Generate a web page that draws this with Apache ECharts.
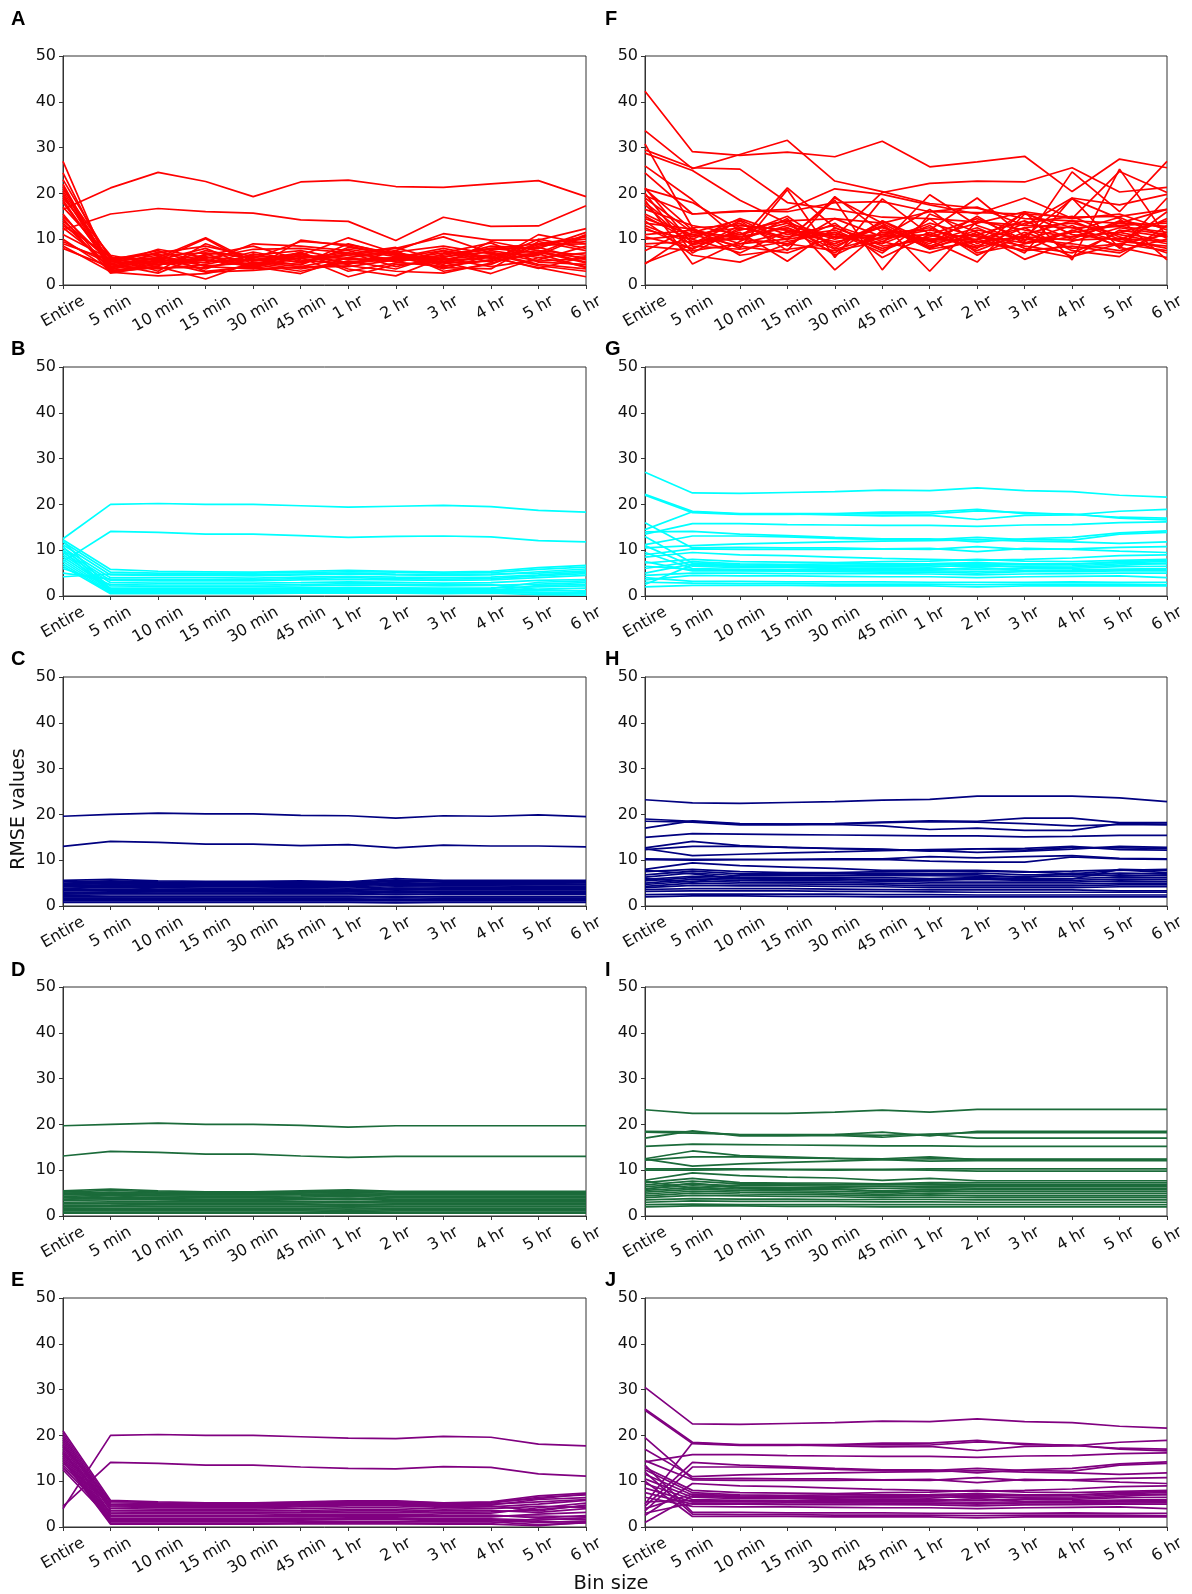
<!DOCTYPE html>
<html><head><meta charset="utf-8">
<script src="https://cdn.jsdelivr.net/npm/echarts@6/dist/echarts.min.js"></script>
<style>html,body{margin:0;padding:0;background:#fff}#c{width:1192px;height:1594px}</style>
</head><body><div id="c"></div>
<script>
const categories = ['Entire','5 min','10 min','15 min','30 min','45 min','1 hr','2 hr','3 hr','4 hr','5 hr','6 hr'];
const yTickStep = 10;
const yMax = 50;

const panelA = [
[16.5,21.2,24.6,22.6,19.3,22.5,22.9,21.5,21.3,22.1,22.8,19.3],
[12.0,15.5,16.7,16.0,15.7,14.2,13.9,9.7,14.8,12.8,12.9,17.3],
[27,3.0,4.5,5.5,4.0,6.0,7.0,5.5,6.5,8.0,7.0,6.0],
[24.5,4.0,6.0,10.3,5.0,4.0,6.0,7.0,5.0,6.0,9.0,10.5],
[23,5.5,7.5,4.0,3.5,9.8,8.5,6.5,4.5,9.5,7.5,5.0],
[22,3.5,5.0,6.5,8.5,5.5,4.5,7.5,11.2,9.8,9.8,12.3],
[21.5,2.8,2.0,2.5,4.5,6.5,10.3,7.0,5.5,7.5,6.0,4.0],
[21,6.0,5.5,10.1,4.5,3.0,5.0,6.0,7.5,5.0,11.0,9.0],
[20.5,4.5,7.8,6.0,5.5,7.0,3.5,2.0,6.0,8.5,8.0,11.5],
[20,3.2,4.0,1.3,5.0,4.5,9.0,6.5,3.5,6.5,7.5,6.5],
[19.5,5.0,6.5,7.0,6.0,5.0,6.5,8.0,10.5,7.0,4.5,3.5],
[19,6.5,4.5,5.0,9.0,8.5,7.5,5.0,4.0,5.5,10.0,8.0],
[18.5,3.8,5.5,8.0,3.8,6.0,1.8,4.5,5.0,2.5,6.0,7.0],
[18,4.2,3.5,4.5,6.5,7.5,5.5,6.0,8.0,6.0,3.8,1.8],
[17,5.8,6.8,3.0,4.0,2.5,6.0,7.5,3.0,4.5,8.5,9.5],
[15.5,3.0,4.8,5.8,7.8,8.0,7.0,4.0,6.0,8.0,9.0,10.0],
[15,4.8,5.2,2.8,3.2,4.0,4.0,5.5,7.0,9.2,5.0,4.5],
[14.5,2.6,4.2,7.5,5.8,9.5,8.8,6.8,4.8,5.2,7.0,11.0],
[14,5.2,6.0,4.2,4.8,3.5,5.2,3.5,6.8,7.8,8.2,5.5],
[13.5,3.6,7.2,5.3,5.3,6.8,4.8,5.8,5.8,4.0,5.5,8.5],
[13,6.2,3.0,9.0,5.5,5.8,6.5,7.2,8.5,6.8,4.2,3.0],
[12.5,4.4,5.8,3.5,6.8,4.8,7.8,6.2,3.8,3.5,9.5,7.5],
[11,5.6,4.4,6.2,4.2,7.2,3.0,4.8,7.5,5.8,6.5,10.8],
[10,3.3,6.2,4.8,7.2,5.2,6.8,8.2,5.2,6.2,3.6,6.2],
[9.5,4.6,2.6,6.8,3.6,3.8,4.2,3.0,2.6,4.8,7.2,4.8],
[9,5.4,7.0,8.5,6.2,6.2,5.8,5.2,6.2,7.2,5.2,5.8],
[8.5,2.9,3.8,3.8,5.6,4.4,8.2,6.6,4.2,5.5,8.8,9.0],
[8,3.9,5.3,5.5,4.6,6.6,4.6,5.8,5.6,6.6,6.8,3.8]
];

const panelB = [
[12.5,20.0,20.2,20.0,20.0,19.7,19.4,19.6,19.8,19.5,18.7,18.3],
[7.5,14.1,13.9,13.5,13.5,13.2,12.8,13.0,13.1,12.9,12.1,11.8],
[12.3,5.8,5.4,5.3,5.2,5.4,5.6,5.4,5.2,5.4,6.2,6.7],
[11.8,5.2,5.0,5.0,5.0,5.1,5.3,5.2,5.0,5.1,5.8,6.3],
[11.2,4.6,4.5,4.5,4.4,4.6,4.8,4.6,4.5,4.6,5.3,5.9],
[10.5,4.0,4.0,4.0,3.9,4.1,4.3,4.1,4.0,4.1,4.6,5.2],
[10.0,3.4,3.3,3.3,3.3,3.5,3.6,3.5,3.4,3.5,4.0,4.5],
[9.5,2.9,2.8,2.8,2.8,2.9,3.1,3.0,2.8,2.9,3.4,3.6],
[9.0,2.2,2.1,2.1,2.1,2.2,2.4,2.3,2.2,2.3,2.6,2.9],
[8.5,1.7,1.7,1.7,1.7,1.8,1.9,1.8,1.7,1.8,2.0,2.2],
[8.0,1.3,1.3,1.3,1.3,1.4,1.5,1.4,1.3,1.4,1.5,1.7],
[7.5,1.0,1.0,1.0,1.0,1.1,1.2,1.1,1.0,1.1,1.1,1.2],
[7.0,0.7,0.7,0.7,0.7,0.8,0.9,0.8,0.7,0.8,0.6,0.5],
[6.5,0.5,0.5,0.5,0.5,0.6,0.6,0.6,0.5,0.6,0.3,0.2],
[6.0,2.5,2.4,2.4,2.4,2.5,2.7,2.6,2.5,2.5,1.4,1.0],
[5.0,3.7,3.6,3.6,3.6,3.8,4.0,3.8,3.7,3.8,4.4,4.9],
[4.2,4.8,4.7,4.7,4.6,4.8,5.0,4.8,4.7,4.8,5.0,5.5],
[12.0,1.5,1.5,1.5,1.5,1.6,1.7,1.6,1.5,1.6,3.0,3.3],
[10.8,1.1,1.2,1.2,1.2,1.2,1.3,1.2,1.2,1.2,2.3,2.5],
[9.8,0.9,0.9,0.9,0.9,1.0,1.0,1.0,0.9,1.0,0.8,0.7]
];

const panelC = [
[19.6,20.0,20.3,20.1,20.1,19.8,19.7,19.2,19.7,19.6,19.9,19.5],
[13.0,14.1,13.9,13.5,13.5,13.2,13.4,12.7,13.3,13.1,13.1,12.9],
[5.6,5.8,5.5,5.4,5.4,5.5,5.3,6.0,5.6,5.6,5.6,5.6],
[5.3,5.5,5.3,5.2,5.2,5.3,5.1,5.7,5.4,5.4,5.4,5.4],
[5.0,5.2,5.0,5.0,5.0,5.0,4.9,5.4,5.2,5.1,5.1,5.1],
[4.7,4.9,4.8,4.7,4.7,4.8,4.7,5.1,4.9,4.9,4.9,4.8],
[4.5,4.6,4.5,4.5,4.4,4.5,4.4,4.8,4.6,4.6,4.6,4.6],
[4.2,4.3,4.3,4.2,4.2,4.3,4.2,4.5,4.4,4.4,4.3,4.3],
[3.9,4.0,4.0,3.9,3.9,4.0,3.9,4.2,4.1,4.1,4.0,4.0],
[3.6,3.7,3.7,3.7,3.7,3.7,3.6,3.9,3.8,3.8,3.8,3.8],
[3.3,3.4,3.4,3.4,3.4,3.4,3.4,3.6,3.5,3.5,3.5,3.5],
[3.0,3.1,3.1,3.1,3.1,3.1,3.1,3.3,3.2,3.2,3.2,3.2],
[2.6,2.7,2.7,2.7,2.7,2.7,2.7,2.9,2.8,2.8,2.8,2.8],
[2.3,2.4,2.4,2.4,2.4,2.4,2.4,2.6,2.5,2.5,2.5,2.5],
[2.0,2.0,2.0,2.0,2.0,2.0,2.0,2.1,2.0,2.0,2.0,2.0],
[1.7,1.7,1.7,1.7,1.7,1.7,1.7,1.8,1.7,1.7,1.7,1.7],
[1.4,1.4,1.4,1.4,1.4,1.4,1.4,1.5,1.4,1.4,1.4,1.4],
[1.1,1.1,1.1,1.1,1.1,1.1,1.1,1.1,1.1,1.1,1.1,1.1],
[0.8,0.8,0.8,0.8,0.8,0.8,0.8,0.7,0.8,0.8,0.8,0.8],
[1.5,1.6,1.5,1.5,1.5,1.5,1.5,1.2,1.6,1.6,1.6,1.6],
[4.8,5.0,4.6,4.6,4.6,4.6,4.5,5.0,4.7,4.7,4.7,4.7],
[2.8,2.9,2.8,2.8,2.8,2.9,2.8,3.0,2.9,2.9,2.9,2.9],
[3.5,4.6,3.5,3.5,3.5,3.6,3.5,3.7,3.6,3.6,3.6,3.6],
[5.4,4.8,5.1,5.1,5.1,5.2,5.0,5.5,5.3,5.3,5.3,5.3]
];

const panelD = [
[19.7,20.0,20.3,20.0,20.0,19.8,19.4,19.7,19.7,19.7,19.7,19.7],
[13.1,14.1,13.9,13.5,13.5,13.1,12.8,13.0,13.0,13.0,13.0,13.0],
[5.5,5.9,5.5,5.3,5.3,5.5,5.7,5.4,5.4,5.4,5.4,5.4],
[5.2,5.6,5.3,5.1,5.1,5.3,5.5,5.2,5.2,5.2,5.2,5.2],
[4.9,5.2,5.0,4.9,4.9,5.0,5.2,4.9,4.9,4.9,4.9,4.9],
[4.6,4.7,4.7,4.6,4.6,4.7,4.9,4.6,4.6,4.6,4.6,4.6],
[4.3,4.5,4.4,4.3,4.3,4.4,4.6,4.3,4.3,4.3,4.3,4.3],
[4.0,4.1,4.1,4.0,4.0,4.1,4.3,4.0,4.0,4.0,4.0,4.0],
[3.7,3.8,3.8,3.7,3.7,3.8,3.9,3.7,3.7,3.7,3.7,3.7],
[3.4,3.5,3.5,3.4,3.4,3.5,3.6,3.4,3.4,3.4,3.4,3.4],
[3.0,3.1,3.1,3.1,3.1,3.1,3.2,3.1,3.1,3.1,3.1,3.1],
[2.7,2.8,2.8,2.8,2.8,2.8,2.9,2.8,2.8,2.8,2.8,2.8],
[2.4,2.4,2.4,2.4,2.4,2.4,2.5,2.4,2.4,2.4,2.4,2.4],
[2.0,2.1,2.1,2.1,2.1,2.1,2.2,2.1,2.1,2.1,2.1,2.1],
[1.7,1.7,1.7,1.7,1.7,1.7,1.8,1.7,1.7,1.7,1.7,1.7],
[1.4,1.4,1.4,1.4,1.4,1.4,1.2,1.4,1.4,1.4,1.4,1.4],
[1.1,1.1,1.1,1.1,1.1,1.1,1.0,1.1,1.1,1.1,1.1,1.1],
[0.8,0.8,0.8,0.8,0.8,0.8,0.8,0.8,0.8,0.8,0.8,0.8],
[0.6,0.6,0.6,0.6,0.6,0.6,0.6,0.6,0.6,0.6,0.6,0.6],
[4.8,5.0,4.6,4.6,4.6,4.7,4.8,4.7,4.7,4.7,4.7,4.7],
[2.2,2.3,2.6,2.6,2.6,2.6,2.4,2.6,2.6,2.6,2.6,2.6],
[3.5,4.6,3.6,3.6,3.6,3.7,3.8,3.6,3.6,3.6,3.6,3.6],
[5.3,4.8,5.1,5.1,5.0,5.2,5.3,5.3,5.3,5.3,5.3,5.3],
[1.2,1.5,1.6,1.6,1.6,1.6,1.5,1.6,1.6,1.6,1.6,1.6]
];

const panelE = [
[4.0,20.0,20.2,20.0,20.0,19.7,19.4,19.3,19.8,19.6,18.1,17.7],
[4.5,14.1,13.9,13.5,13.5,13.1,12.8,12.7,13.2,13.0,11.6,11.1],
[21.0,5.8,5.5,5.3,5.3,5.5,5.7,5.7,5.3,5.5,6.8,7.4],
[20.5,5.3,5.1,5.0,5.0,5.2,5.4,5.4,5.0,5.2,6.5,7.0],
[20.0,4.8,4.7,4.6,4.6,4.8,5.0,5.0,4.7,4.8,6.0,6.4],
[19.5,4.4,4.3,4.2,4.2,4.4,4.6,4.6,4.3,4.4,5.0,5.8],
[19.0,4.0,3.9,3.9,3.9,4.0,4.2,4.2,3.9,4.0,4.5,4.3],
[18.5,3.6,3.5,3.5,3.5,3.6,3.8,3.8,3.5,3.6,3.2,4.0],
[18.0,3.0,3.0,3.0,3.0,3.1,3.2,3.2,3.0,3.0,4.2,5.2],
[17.5,2.6,2.6,2.6,2.6,2.7,2.8,2.8,2.6,2.6,2.0,2.5],
[17.0,2.2,2.2,2.2,2.2,2.2,2.3,2.3,2.2,2.2,2.8,3.2],
[16.5,1.8,1.8,1.8,1.8,1.9,2.0,2.0,1.8,1.8,1.5,2.0],
[16.0,1.4,1.4,1.4,1.4,1.5,1.6,1.6,1.4,1.4,1.0,1.3],
[15.5,1.1,1.1,1.1,1.1,1.2,1.2,1.2,1.1,1.1,0.5,0.9],
[15.0,0.8,0.8,0.8,0.8,0.9,0.9,0.9,0.8,0.8,1.8,1.6],
[14.5,0.6,0.6,0.6,0.6,0.7,0.7,0.7,0.6,0.6,0.3,1.0],
[14.0,5.0,4.9,4.8,4.8,5.0,5.2,5.2,4.8,5.0,5.5,6.0],
[13.5,3.3,3.2,3.2,3.2,3.3,3.5,3.5,3.2,3.3,3.8,4.6],
[13.0,2.4,2.4,2.4,2.4,2.5,2.6,2.6,2.4,2.4,2.4,2.2],
[12.5,1.6,1.6,1.6,1.6,1.7,1.8,1.8,1.6,1.6,1.2,1.0],
[17.8,5.6,5.3,5.2,5.2,5.4,5.6,5.6,5.2,5.4,6.2,7.2],
[16.2,4.6,4.5,4.4,4.4,4.6,4.8,4.8,4.5,4.6,3.5,4.8]
];

const panelF = [
[42.3,29.1,28.3,29.0,28.0,31.4,25.8,26.9,28.1,20.4,27.5,25.6],
[33.7,25.4,28.5,31.6,22.7,20.4,17.8,16.8,14.5,14.0,13.5,12.8],
[29.5,25.6,25.3,18.0,16.5,14.8,14.5,13.8,13.0,12.5,12.8,11.5],
[30.8,12.5,13.0,12.0,10.5,11.0,10.0,9.5,10.5,9.8,10.2,9.5],
[28.8,25.0,18.5,13.5,10.5,20.2,22.2,22.7,22.5,25.6,20.3,21.3],
[26.0,18.6,9.8,21.2,12.5,9.0,19.7,13.0,9.5,24.7,16.0,27.0],
[24.5,15.5,16.0,16.5,21.0,19.8,17.5,15.5,19.0,14.5,24.8,20.2],
[21.2,9.0,14.0,7.5,19.3,11.5,12.0,19.0,10.5,18.8,14.5,5.5],
[21.0,12.0,8.0,20.8,6.0,18.8,11.0,8.0,16.0,5.5,25.3,10.5],
[20.0,7.0,12.5,10.0,18.5,3.3,15.5,11.5,7.0,19.0,8.0,19.0],
[19.0,11.5,10.5,12.5,9.0,13.5,3.0,14.0,12.0,10.5,13.5,16.5],
[18.5,4.6,9.5,14.5,3.3,12.0,9.8,5.0,15.5,12.5,9.5,8.5],
[18.0,10.0,14.5,11.0,13.0,9.5,13.5,10.5,8.5,7.0,11.5,14.0],
[17.5,8.5,7.8,9.5,11.5,8.0,10.5,13.5,16.0,14.5,15.5,12.0],
[16.5,13.0,11.0,15.0,8.0,14.0,8.5,12.0,10.0,9.0,7.5,10.0],
[15.5,10.5,13.5,8.5,14.5,10.5,16.5,9.0,13.5,15.0,10.5,7.0],
[15.0,9.5,10.0,13.0,10.0,12.5,9.0,15.0,9.0,11.5,13.0,13.5],
[14.5,11.0,12.5,10.5,12.0,7.5,11.5,7.5,11.5,8.0,9.0,11.0],
[14.0,6.5,5.0,9.0,7.5,9.5,7.0,10.0,7.5,12.0,8.5,16.0],
[13.5,12.2,9.0,11.5,9.5,11.0,12.5,8.5,12.5,13.5,11.0,9.0],
[13.0,9.0,11.5,5.2,12.5,8.5,10.0,11.0,14.0,10.0,14.0,12.5],
[12.5,7.8,13.0,12.0,7.0,14.0,9.5,12.5,8.0,6.0,12.0,10.5],
[12.0,10.0,7.0,11.8,11.0,10.0,12.0,9.8,15.8,11.0,9.8,14.5],
[11.0,12.0,10.0,9.0,13.5,6.0,11.0,14.5,9.8,13.0,8.2,6.0],
[10.5,8.0,12.0,14.0,8.5,12.8,8.0,11.5,5.6,9.5,12.5,11.0],
[10.0,11.0,8.5,7.0,10.5,9.0,13.0,6.5,11.0,14.0,10.0,8.0],
[9.0,9.5,11.0,13.5,6.5,11.5,9.5,10.0,12.5,7.5,6.2,13.0],
[8.5,7.5,9.0,10.0,11.5,7.0,14.5,7.0,9.0,10.5,11.5,9.5],
[7.5,12.5,6.5,7.8,9.0,13.0,7.8,9.5,7.5,8.5,7.0,11.5],
[4.8,8.8,10.5,12.5,7.8,10.5,11.0,8.2,10.8,6.2,9.0,7.5],
[4.6,11.5,14.2,9.8,19.0,13.5,8.2,10.8,9.2,11.8,14.8,10.2],
[19.5,15.5,16.2,16.0,18.0,18.2,16.0,15.8,15.5,14.8,15.0,16.5],
[21.0,18.0,12.0,14.0,14.5,13.5,16.0,17.0,13.0,19.0,17.5,19.8]
];

const panelG = [
[27.0,22.5,22.4,22.6,22.8,23.1,23.0,23.6,23.0,22.8,22.0,21.6],
[22.2,18.5,18.0,18.0,18.0,18.3,18.3,18.9,18.0,17.9,17.0,16.6],
[22.0,18.2,17.8,17.8,17.9,18.0,17.9,18.6,18.2,17.8,17.2,17.0],
[14.5,18.4,17.9,17.9,17.7,17.5,17.6,16.7,17.6,17.7,18.5,18.9],
[16.0,10.5,10.6,10.5,10.5,10.3,10.4,9.7,10.4,10.2,9.8,9.5],
[13.5,15.8,15.8,15.6,15.5,15.4,15.4,15.2,15.5,15.6,16.0,16.2],
[14.0,14.1,13.5,13.2,12.8,12.5,12.5,11.8,12.5,12.8,13.8,14.2],
[11.2,13.1,13.1,12.9,12.6,12.3,12.3,12.8,12.3,12.2,13.5,13.9],
[10.5,11.0,11.4,11.6,11.8,12.0,12.1,12.3,12.0,11.8,11.5,11.8],
[9.0,10.3,10.2,10.2,10.2,10.3,10.2,10.8,10.2,10.3,10.6,10.8],
[8.5,9.5,9.0,8.8,8.5,8.2,8.0,7.8,8.0,8.3,8.8,9.0],
[7.2,8.0,7.5,7.4,7.3,7.5,7.6,8.0,7.6,7.5,7.8,8.0],
[6.0,7.5,7.0,6.9,7.0,7.0,7.1,7.3,7.0,7.0,7.3,7.5],
[5.0,7.0,6.6,6.5,6.5,6.6,6.6,6.4,6.5,6.6,7.0,7.0],
[11.0,6.5,6.2,6.2,6.0,6.1,6.0,5.8,6.1,6.0,6.4,6.5],
[9.5,6.0,5.8,5.7,5.8,5.7,5.7,6.2,5.6,5.7,5.9,6.0],
[7.5,5.5,5.5,5.4,5.3,5.2,5.2,5.0,5.3,5.3,5.5,5.5],
[4.5,5.0,5.0,4.9,4.9,4.9,4.8,4.6,4.8,4.9,5.0,5.0],
[3.5,4.5,4.4,4.4,4.3,4.2,4.2,4.0,4.2,4.3,4.4,4.0],
[4.0,3.2,3.2,3.1,3.1,3.1,3.0,3.0,3.0,3.1,3.0,3.0],
[3.0,2.8,2.7,2.7,2.6,2.6,2.6,2.5,2.6,2.6,2.6,2.5],
[2.0,2.3,2.3,2.3,2.2,2.2,2.2,2.0,2.2,2.2,2.2,2.2],
[2.5,6.8,6.4,6.3,6.3,6.4,6.3,6.8,6.3,6.3,6.7,7.2],
[6.5,5.8,5.6,5.6,5.5,5.5,5.5,5.4,5.5,5.5,5.7,5.8],
[13.0,7.2,6.8,6.7,6.7,6.8,6.9,7.0,6.8,6.9,7.5,7.8]
];

const panelH = [
[23.2,22.5,22.4,22.6,22.8,23.1,23.3,24.0,24.0,24.0,23.6,22.8],
[19.0,18.5,17.9,17.9,18.0,18.3,18.6,18.5,19.2,19.2,18.2,18.2],
[18.5,18.3,17.7,17.7,17.8,17.5,16.7,17.0,16.5,16.5,18.0,17.9],
[17.0,18.6,18.0,17.9,17.9,18.2,18.4,18.3,18.0,17.5,17.8,17.7],
[15.0,15.8,15.7,15.6,15.5,15.4,15.3,15.3,15.1,15.2,15.4,15.4],
[12.7,14.1,13.2,12.8,12.6,12.4,12.0,12.5,12.6,13.0,12.3,12.2],
[12.3,13.0,13.0,12.8,12.5,12.3,12.1,11.7,12.0,12.4,13.0,12.8],
[12.5,11.0,11.3,11.6,11.8,12.1,12.3,12.5,12.2,12.8,12.7,12.6],
[10.3,10.2,10.2,10.2,10.3,10.3,10.8,10.5,10.8,11.0,10.4,10.3],
[10.1,10.0,10.1,10.1,10.1,10.2,9.8,9.6,9.6,10.7,10.3,10.2],
[8.0,9.4,8.8,8.5,8.2,7.8,7.8,7.8,7.5,7.0,7.8,8.0],
[7.5,8.0,7.5,7.3,7.3,7.5,7.5,7.6,7.4,7.6,7.9,7.3],
[6.8,7.6,7.0,7.0,7.0,7.2,7.0,7.2,6.8,6.8,7.2,7.0],
[6.3,7.2,6.6,6.6,6.6,6.6,6.6,6.5,6.4,6.5,6.8,6.6],
[5.8,6.5,6.3,6.2,6.2,6.2,6.0,6.2,6.0,6.0,6.3,6.2],
[5.5,6.2,5.9,5.8,5.9,5.8,5.6,5.8,5.6,5.6,5.9,5.8],
[5.0,5.8,5.6,5.5,5.5,5.4,5.2,5.2,5.2,5.2,5.5,5.4],
[4.7,5.4,5.2,5.1,5.1,5.0,4.8,4.8,4.8,4.8,5.0,5.0],
[4.3,5.0,4.8,4.8,4.7,4.6,4.4,4.4,4.4,4.4,4.6,4.6],
[4.0,4.5,4.4,4.4,4.3,4.2,4.0,4.0,4.0,4.0,4.2,4.2],
[3.6,3.8,3.8,3.8,3.7,3.6,3.5,3.5,3.5,3.5,3.3,3.3],
[3.2,3.3,3.3,3.3,3.2,3.2,3.1,3.0,3.0,3.0,3.0,3.0],
[2.5,2.6,2.6,2.6,2.6,2.5,2.5,2.4,2.4,2.4,2.4,2.4],
[2.0,2.2,2.2,2.1,2.1,2.0,2.0,2.0,2.0,2.0,2.0,2.0],
[6.0,5.2,6.8,6.8,6.7,6.9,6.8,6.8,6.2,7.2,6.5,6.8],
[7.8,7.0,6.0,6.0,6.0,5.5,5.8,6.0,5.8,5.9,8.0,7.8]
];

const panelI = [
[23.2,22.4,22.4,22.4,22.7,23.1,22.7,23.3,23.3,23.3,23.3,23.3],
[18.5,18.4,17.7,17.7,17.8,18.3,17.5,18.5,18.5,18.5,18.5,18.5],
[18.3,18.1,17.8,17.8,17.8,17.6,17.9,18.2,18.2,18.2,18.2,18.2],
[17.0,18.6,17.5,17.5,17.6,17.2,17.8,17.0,17.0,17.0,17.0,17.0],
[15.2,15.7,15.6,15.5,15.4,15.3,15.3,15.2,15.2,15.2,15.2,15.2],
[12.5,14.2,13.2,12.9,12.6,12.5,12.9,12.3,12.3,12.3,12.3,12.3],
[12.2,12.9,12.9,12.7,12.6,12.3,12.0,12.1,12.1,12.1,12.1,12.1],
[12.4,10.9,11.4,11.7,12.0,12.3,12.5,12.4,12.4,12.4,12.4,12.4],
[10.3,10.3,10.3,10.2,10.2,10.2,10.3,10.3,10.3,10.3,10.3,10.3],
[10.0,10.0,10.1,10.1,10.0,10.1,10.0,9.8,9.8,9.8,9.8,9.8],
[7.8,9.4,8.8,8.5,8.3,7.8,8.2,7.7,7.7,7.7,7.7,7.7],
[7.3,8.2,7.3,7.2,7.2,7.0,7.3,7.3,7.3,7.3,7.3,7.3],
[6.8,7.6,7.0,7.0,6.9,6.8,7.0,6.9,6.9,6.9,6.9,6.9],
[6.4,7.0,6.6,6.6,6.5,6.4,6.5,6.5,6.5,6.5,6.5,6.5],
[6.0,6.6,6.3,6.2,6.2,6.0,6.2,6.1,6.1,6.1,6.1,6.1],
[5.6,6.2,5.9,5.8,5.8,5.5,5.8,5.7,5.7,5.7,5.7,5.7],
[5.2,5.8,5.6,5.5,5.4,5.1,5.4,5.3,5.3,5.3,5.3,5.3],
[4.8,5.4,5.2,5.1,5.0,4.7,5.0,4.9,4.9,4.9,4.9,4.9],
[4.4,5.0,4.8,4.7,4.6,4.4,4.6,4.4,4.4,4.4,4.4,4.4],
[4.0,4.5,4.4,4.3,4.2,4.0,4.1,4.0,4.0,4.0,4.0,4.0],
[3.5,3.8,3.7,3.7,3.6,3.6,3.6,3.5,3.5,3.5,3.5,3.5],
[3.0,3.3,3.2,3.2,3.2,3.1,3.1,3.0,3.0,3.0,3.0,3.0],
[2.5,2.6,2.5,2.5,2.5,2.5,2.5,2.5,2.5,2.5,2.5,2.5],
[2.0,2.2,2.2,2.1,2.1,2.0,2.0,2.0,2.0,2.0,2.0,2.0],
[7.6,6.0,6.8,6.8,6.8,6.9,6.8,6.7,6.7,6.7,6.7,6.7],
[5.8,7.2,6.1,6.1,6.0,5.3,5.5,5.9,5.9,5.9,5.9,5.9]
];

const panelJ = [
[30.5,22.5,22.4,22.6,22.8,23.1,23.0,23.6,23.0,22.8,22.0,21.6],
[25.8,18.5,18.0,18.0,18.0,18.3,18.3,18.9,18.0,17.9,17.0,16.6],
[25.5,18.2,17.8,17.8,17.9,18.0,17.9,18.6,18.2,17.8,17.2,17.0],
[5.0,18.4,17.9,17.9,17.7,17.5,17.6,16.7,17.6,17.7,18.5,18.9],
[19.5,10.5,10.6,10.5,10.5,10.3,10.4,9.7,10.4,10.2,9.8,9.5],
[14.2,15.8,15.8,15.6,15.5,15.4,15.4,15.2,15.5,15.6,16.0,16.2],
[4.5,14.1,13.5,13.2,12.8,12.5,12.5,11.8,12.5,12.8,13.8,14.2],
[3.5,13.1,13.1,12.9,12.6,12.3,12.3,12.8,12.3,12.2,13.5,13.9],
[17.0,11.0,11.4,11.6,11.8,12.0,12.1,12.3,12.0,11.8,11.5,11.8],
[14.5,10.3,10.2,10.2,10.2,10.3,10.2,10.8,10.2,10.3,10.6,10.8],
[2.5,9.5,9.0,8.8,8.5,8.2,8.0,7.8,8.0,8.3,8.8,9.0],
[13.0,8.0,7.5,7.4,7.3,7.5,7.6,8.0,7.6,7.5,7.8,8.0],
[12.5,7.5,7.0,6.9,7.0,7.0,7.1,7.3,7.0,7.0,7.3,7.5],
[11.5,7.0,6.6,6.5,6.5,6.6,6.6,6.4,6.5,6.6,7.0,7.0],
[10.5,6.5,6.2,6.2,6.0,6.1,6.0,5.8,6.1,6.0,6.4,6.5],
[9.5,6.0,5.8,5.7,5.8,5.7,5.7,6.2,5.6,5.7,5.9,6.0],
[8.5,5.5,5.5,5.4,5.3,5.2,5.2,5.0,5.3,5.3,5.5,5.5],
[7.5,5.0,5.0,4.9,4.9,4.9,4.8,4.6,4.8,4.9,5.0,5.0],
[6.5,4.5,4.4,4.4,4.3,4.2,4.2,4.0,4.2,4.3,4.4,4.0],
[13.5,3.2,3.2,3.1,3.1,3.1,3.0,3.0,3.0,3.1,3.0,3.0],
[12.0,2.8,2.7,2.7,2.6,2.6,2.6,2.5,2.6,2.6,2.6,2.5],
[10.0,2.3,2.3,2.3,2.2,2.2,2.2,2.0,2.2,2.2,2.2,2.2],
[1.0,6.8,6.4,6.3,6.3,6.4,6.3,6.8,6.3,6.3,6.7,7.2],
[5.5,5.8,5.6,5.6,5.5,5.5,5.5,5.4,5.5,5.5,5.7,5.8],
[4.0,7.2,6.8,6.7,6.7,6.8,6.9,7.0,6.8,6.9,7.5,7.8],
[3.0,5.2,5.1,5.0,5.0,5.0,5.0,5.2,5.0,5.0,5.2,5.3]
];

// ---- layout & style (not data) ----
const panelList = [
  {label:'A', lines:panelA, color:'#ff0000', col:0, row:0},
  {label:'B', lines:panelB, color:'#00ffff', col:0, row:1},
  {label:'C', lines:panelC, color:'#000080', col:0, row:2},
  {label:'D', lines:panelD, color:'#1b6b3a', col:0, row:3},
  {label:'E', lines:panelE, color:'#800080', col:0, row:4},
  {label:'F', lines:panelF, color:'#ff0000', col:1, row:0},
  {label:'G', lines:panelG, color:'#00ffff', col:1, row:1},
  {label:'H', lines:panelH, color:'#000080', col:1, row:2},
  {label:'I', lines:panelI, color:'#1b6b3a', col:1, row:3},
  {label:'J', lines:panelJ, color:'#800080', col:1, row:4}
];
const colLeft = [63, 645];
const colWidth = [523, 522];
const rowTop = [56, 367, 677, 987, 1298];
const plotHeight = 229;
const letterLeft = [11, 605];
const letterTop = [9, 339, 649, 960, 1270];

const FONT = '"DejaVu Sans", sans-serif';
const AXIS_COLOR = '#333333';
const TEXT_COLOR = '#111111';
const TICK_FONT_SIZE = 16;
const LABEL_MARGIN = 3;

// Emulate matplotlib-style centred rotated (30 deg) tick labels:
// text centre should sit below the tick by (base + width/4).
const ctx = document.createElement('canvas').getContext('2d');
ctx.font = TICK_FONT_SIZE + 'px "DejaVu Sans"';
const lineH = TICK_FONT_SIZE;
const xData = categories.map(c => {
  const w = ctx.measureText(c).width;
  const D = 15 + w / 4 - LABEL_MARGIN;
  const u = D / 1.1547;
  const T = Math.max(0, u - lineH / 2);
  const R = D;
  return {value: c, textStyle: {align: 'center', verticalAlign: 'top', padding: [T, R, 0, 0]}};
});

const grids = [], xAxes = [], yAxes = [], series = [], titles = [];
panelList.forEach((p, i) => {
  grids.push({
    left: colLeft[p.col], top: rowTop[p.row], width: colWidth[p.col], height: plotHeight,
    show: true, borderColor: AXIS_COLOR, borderWidth: 1, backgroundColor: '#fff',
    containLabel: false, outerBoundsMode: 'none'
  });
  xAxes.push({
    type: 'category', gridIndex: i, data: xData, boundaryGap: false,
    axisLine: {show: true, onZero: false, lineStyle: {color: AXIS_COLOR, width: 1}},
    axisTick: {show: true, length: 4, interval: 0, lineStyle: {color: AXIS_COLOR}},
    splitLine: {show: false},
    axisLabel: {interval: 0, rotate: 30, align: 'center', verticalAlign: 'top', margin: LABEL_MARGIN,
      fontSize: TICK_FONT_SIZE, fontFamily: FONT, color: TEXT_COLOR, hideOverlap: false}
  });
  yAxes.push({
    type: 'value', gridIndex: i, min: 0, max: yMax, interval: yTickStep,
    axisLine: {show: true, lineStyle: {color: AXIS_COLOR, width: 1}},
    axisTick: {show: true, length: 4, lineStyle: {color: AXIS_COLOR}},
    splitLine: {show: false},
    axisLabel: {fontSize: TICK_FONT_SIZE, fontFamily: FONT, color: TEXT_COLOR, margin: 7}
  });
  titles.push({
    text: p.label, left: letterLeft[p.col], top: letterTop[p.row], padding: 0,
    textStyle: {fontSize: 20, fontWeight: 'bold', fontFamily: '"Liberation Sans", Arial, sans-serif', color: '#000'}
  });
  p.lines.forEach(vals => {
    series.push({
      type: 'line', xAxisIndex: i, yAxisIndex: i, data: vals,
      symbol: 'none', showSymbol: false, silent: true, animation: false,
      lineStyle: {color: p.color, width: 1.7}, itemStyle: {color: p.color}
    });
  });
});

const chart = echarts.init(document.getElementById('c'), null, {renderer: 'canvas'});
chart.setOption({
  backgroundColor: '#fff',
  animation: false,
  title: titles,
  grid: grids,
  xAxis: xAxes,
  yAxis: yAxes,
  series: series,
  graphic: [
    {type: 'text', x: 19, y: 809, rotation: Math.PI / 2, silent: true,
     style: {text: 'RMSE values', align: 'center', verticalAlign: 'middle', fontSize: 19, fontFamily: FONT, fill: TEXT_COLOR}},
    {type: 'text', x: 611, y: 1584, silent: true,
     style: {text: 'Bin size', align: 'center', verticalAlign: 'middle', fontSize: 19.5, fontFamily: FONT, fill: TEXT_COLOR}}
  ]
});
</script>
</body></html>
